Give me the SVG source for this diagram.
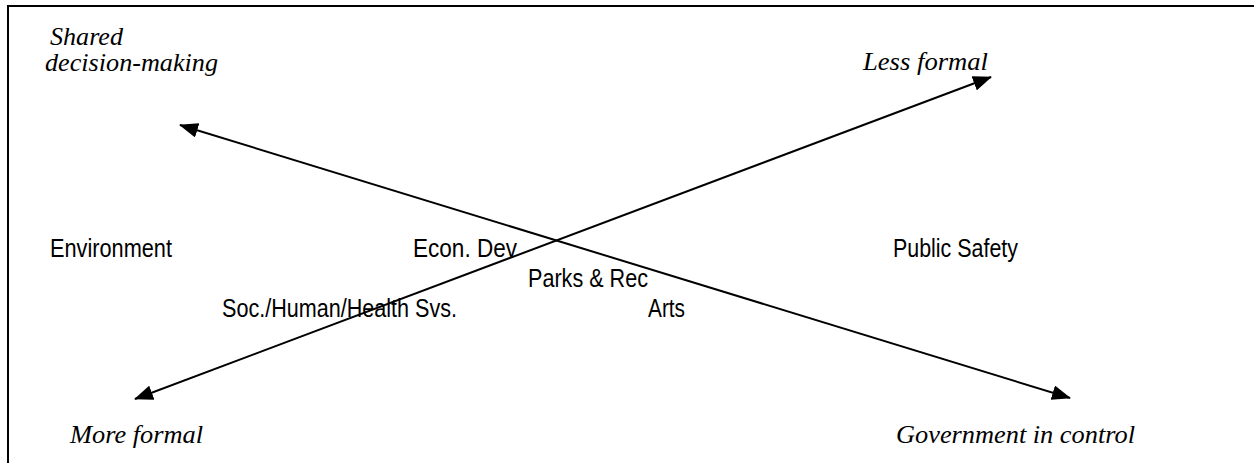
<svg xmlns="http://www.w3.org/2000/svg" width="1254" height="463" viewBox="0 0 1254 463">
  <style>
    .frame { fill: none; stroke: #000; stroke-width: 2; }
    .conn { stroke: #000; stroke-width: 2; fill: none; }
    .it { font-family: "Liberation Serif", "Times New Roman", serif; font-style: italic; font-size: 25px; fill: #000; }
    .sans { font-family: "Liberation Sans", Arial, sans-serif; font-size: 25px; fill: #000; }
  </style>
  <defs>
    <marker id="arrow" markerUnits="userSpaceOnUse" markerWidth="19" markerHeight="15" refX="18" refY="7.5" orient="auto-start-reverse" viewBox="0 0 19 15">
      <path d="M0,0 L19,7.5 L0,15 Z" fill="#000"/>
    </marker>
  </defs>
  <rect width="1254" height="463" fill="#fff"/>
  <path class="frame" d="M8,463 V6 H1254"/>

  <g id="connectors">
    <line class="conn" x1="180" y1="125" x2="1070" y2="398" marker-start="url(#arrow)" marker-end="url(#arrow)"/>
    <line class="conn" x1="135" y1="399" x2="991" y2="77" marker-start="url(#arrow)" marker-end="url(#arrow)"/>
  </g>

  <g id="shared-decision-making">
    <text class="it" x="50" y="45" textLength="73" lengthAdjust="spacingAndGlyphs">Shared</text>
    <text class="it" x="45" y="71" textLength="173" lengthAdjust="spacingAndGlyphs">decision-making</text>
  </g>
  <g id="less-formal">
    <text class="it" x="863" y="70" textLength="125" lengthAdjust="spacingAndGlyphs">Less formal</text>
  </g>
  <g id="more-formal">
    <text class="it" x="70" y="443" textLength="133" lengthAdjust="spacingAndGlyphs">More formal</text>
  </g>
  <g id="government-in-control">
    <text class="it" x="896" y="443" textLength="239" lengthAdjust="spacingAndGlyphs">Government in control</text>
  </g>

  <g id="environment">
    <text class="sans" x="50" y="257" textLength="122" lengthAdjust="spacingAndGlyphs">Environment</text>
  </g>
  <g id="econ-dev">
    <text class="sans" x="413" y="257" textLength="104" lengthAdjust="spacingAndGlyphs">Econ. Dev</text>
  </g>
  <g id="public-safety">
    <text class="sans" x="893" y="257" textLength="125" lengthAdjust="spacingAndGlyphs">Public Safety</text>
  </g>
  <g id="parks-rec">
    <text class="sans" x="528" y="287" textLength="120" lengthAdjust="spacingAndGlyphs">Parks &amp; Rec</text>
  </g>
  <g id="soc-human-health">
    <text class="sans" x="222" y="317" textLength="235" lengthAdjust="spacingAndGlyphs">Soc./Human/Health Svs.</text>
  </g>
  <g id="arts">
    <text class="sans" x="648" y="317" textLength="37" lengthAdjust="spacingAndGlyphs">Arts</text>
  </g>
</svg>
